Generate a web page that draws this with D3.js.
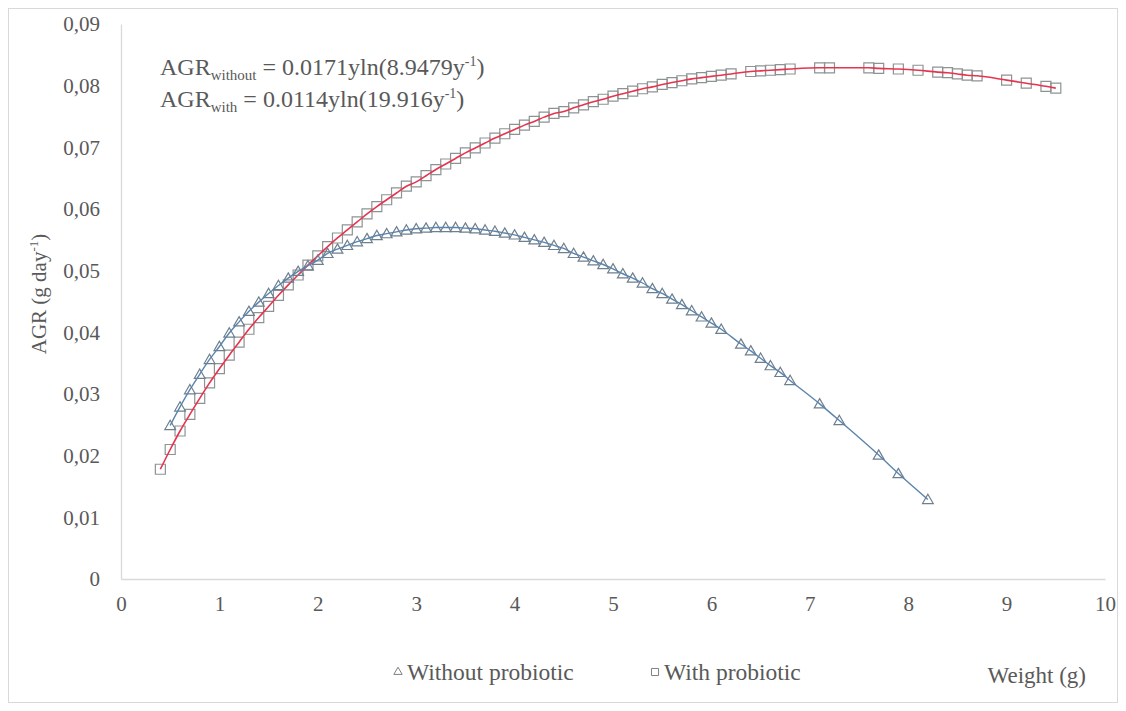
<!DOCTYPE html>
<html>
<head>
<meta charset="utf-8">
<script src="https://cdn.jsdelivr.net/npm/d3@7"></script>
<style>
    body { margin: 0; background: #fff; }
    text { font-family: "Liberation Serif", "Times New Roman", serif; fill: #595959; }
</style>
</head>
<body>
<svg id="chart"></svg>
<script>
// weight (g) and AGR (g/day)
var xWithout = [0.5, 0.6, 0.7, 0.8, 0.9, 1.0, 1.1, 1.2, 1.3, 1.4, 1.5, 1.6, 1.7, 1.8, 1.9,
    2.0, 2.1, 2.2, 2.3, 2.4, 2.5, 2.6, 2.7, 2.8, 2.9, 3.0, 3.1, 3.2, 3.3, 3.4, 3.5, 3.6, 3.7, 3.8, 3.9,
    4.0, 4.1, 4.2, 4.3, 4.4, 4.5, 4.6, 4.7, 4.8, 4.9, 5.0, 5.1, 5.2, 5.3, 5.4, 5.5, 5.6, 5.7, 5.8, 5.9,
    6.0, 6.1, 6.3, 6.4, 6.5, 6.6, 6.7, 6.8, 7.1, 7.3, 7.7, 7.9, 8.2];
var yWithout = [0.0249, 0.0279, 0.0307, 0.0332, 0.0356, 0.0377, 0.0399, 0.0417, 0.0434, 0.0449, 0.0463, 0.0476, 0.0488, 0.0499, 0.0508,
    0.0517, 0.0528, 0.0535, 0.0541, 0.0547, 0.0552, 0.0557, 0.0560, 0.0563, 0.0566, 0.0568, 0.0569, 0.0570, 0.0570, 0.0570, 0.0569, 0.0568, 0.0566, 0.0564, 0.0561,
    0.0558, 0.0554, 0.0550, 0.0546, 0.0541, 0.0536, 0.0528, 0.0522, 0.0516, 0.0510, 0.0503, 0.0495, 0.0488, 0.0480, 0.0471, 0.0463, 0.0454, 0.0445, 0.0435, 0.0425,
    0.0415, 0.0405, 0.0381, 0.0370, 0.0358, 0.0346, 0.0335, 0.0322, 0.0284, 0.0257, 0.0201, 0.0171, 0.0129];

var xWith = [0.4, 0.5, 0.6, 0.7, 0.8, 0.9, 1.0, 1.1, 1.2, 1.3, 1.4, 1.5, 1.6, 1.7, 1.8, 1.9,
    2.0, 2.1, 2.2, 2.3, 2.4, 2.5, 2.6, 2.7, 2.8, 2.9, 3.0, 3.1, 3.2, 3.3, 3.4, 3.5, 3.6, 3.7, 3.8, 3.9,
    4.0, 4.1, 4.2, 4.3, 4.4, 4.5, 4.6, 4.7, 4.8, 4.9, 5.0, 5.1, 5.2, 5.3, 5.4, 5.5, 5.6, 5.7, 5.8, 5.9,
    6.0, 6.1, 6.2, 6.4, 6.5, 6.6, 6.7, 6.8, 7.1, 7.2, 7.6, 7.7, 7.9, 8.1, 8.3, 8.4, 8.5, 8.6, 8.7,
    9.0, 9.2, 9.4, 9.5];
var yWith = [0.0178, 0.0210, 0.0240, 0.0267, 0.0293, 0.0318, 0.0341, 0.0363, 0.0384, 0.0405, 0.0424, 0.0442, 0.0460, 0.0477, 0.0493, 0.0509,
    0.0524, 0.0539, 0.0553, 0.0566, 0.0579, 0.0592, 0.0604, 0.0615, 0.0626, 0.0637, 0.0644, 0.0654, 0.0664, 0.0673, 0.0682, 0.0691, 0.0699, 0.0707, 0.0715, 0.0722,
    0.0729, 0.0736, 0.0742, 0.0749, 0.0755, 0.0758, 0.0764, 0.0769, 0.0774, 0.0778, 0.0783, 0.0787, 0.0791, 0.0795, 0.0798, 0.0802, 0.0805, 0.0808, 0.0811, 0.0813,
    0.0815, 0.0817, 0.0819, 0.0823, 0.0824, 0.0825, 0.0826, 0.0827, 0.0829, 0.0829, 0.0829, 0.0828, 0.0827, 0.0825, 0.0822, 0.0821, 0.0819, 0.0817, 0.0816,
    0.0809, 0.0804, 0.0799, 0.0796];

var xTicks = [0, 1, 2, 3, 4, 5, 6, 7, 8, 9, 10];
var yTicks = [0, 0.01, 0.02, 0.03, 0.04, 0.05, 0.06, 0.07, 0.08, 0.09];
var seriesNames = ["Without probiotic", "With probiotic"];

var W = 1126, H = 711;
var margin = { top: 24, right: 21, bottom: 132, left: 121 },
    width = W - margin.left - margin.right,
    height = H - margin.top - margin.bottom;

var serif = "Liberation Serif, Times New Roman, serif";

var svg = d3.select("#chart")
    .attr("width", W)
    .attr("height", H);

// outer frame
svg.append("rect")
    .attr("x", 8.5).attr("y", 8.5)
    .attr("width", W - 17).attr("height", H - 17)
    .attr("fill", "#fff")
    .attr("stroke", "#d9d9d9");

var g = svg.append("g")
    .attr("transform", "translate(" + margin.left + "," + margin.top + ")");

var x = d3.scaleLinear().domain([0, 10]).range([0, width]);
var y = d3.scaleLinear().domain([0, 0.09]).range([height, 0]);

var fmtY = function (d) { return d === 0 ? "0" : d.toFixed(2).replace(".", ","); };

g.append("g")
    .attr("class", "x axis")
    .attr("transform", "translate(0," + height + ")")
    .call(d3.axisBottom(x).tickValues(xTicks).tickSize(0).tickPadding(17));
g.append("g")
    .attr("class", "y axis")
    .call(d3.axisLeft(y).tickValues(yTicks).tickSize(0).tickPadding(21).tickFormat(fmtY));

g.selectAll(".axis").attr("font-family", serif).attr("font-size", 21);
g.selectAll(".axis path").attr("stroke", "#d9d9d9").attr("stroke-width", 1.3);
g.selectAll(".axis text")
    .attr("font-family", serif)
    .attr("font-size", 21)
    .attr("fill", "#595959");

// axis titles
svg.append("text")
    .attr("transform", "translate(46,294) rotate(-90)")
    .attr("text-anchor", "middle")
    .style("font-size", "21px")
    .call(function (t) {
        t.append("tspan").text("AGR (g day");
        t.append("tspan").attr("dy", -8).style("font-size", "13px").text("-1");
        t.append("tspan").attr("dy", 8).text(")");
    });

svg.append("text")
    .attr("x", 1086).attr("y", 683)
    .attr("text-anchor", "end")
    .style("font-size", "23px")
    .text("Weight  (g)");

var line = d3.line()
    .x(function (d) { return x(d[0]); })
    .y(function (d) { return y(d[1]); })
    .curve(d3.curveMonotoneX);

var withData = xWith.map(function (v, i) { return [v, yWith[i]]; });
var withoutData = xWithout.map(function (v, i) { return [v, yWithout[i]]; });

var squareSym = d3.symbol().type(d3.symbolSquare).size(100);
var triSym = d3.symbol().type(d3.symbolTriangle).size(50);

g.selectAll(".sq")
    .data(withData)
    .enter().append("path")
    .attr("class", "sq")
    .attr("d", squareSym)
    .attr("transform", function (d) { return "translate(" + x(d[0]) + "," + y(d[1]) + ")"; })
    .attr("fill", "none")
    .attr("stroke", "#8c9493")
    .attr("stroke-width", 1.2);

g.append("path")
    .datum(withData)
    .attr("d", line)
    .attr("fill", "none")
    .attr("stroke", "#e8334f")
    .attr("stroke-width", 1.6);

g.selectAll(".tri")
    .data(withoutData)
    .enter().append("path")
    .attr("class", "tri")
    .attr("d", triSym)
    .attr("transform", function (d) { return "translate(" + x(d[0]) + "," + (y(d[1]) + 1) + ")"; })
    .attr("fill", "none")
    .attr("stroke", "#6e7f8e")
    .attr("stroke-width", 1.2);

g.append("path")
    .datum(withoutData)
    .attr("d", line)
    .attr("fill", "none")
    .attr("stroke", "#5b84ad")
    .attr("stroke-width", 1.4);

// equations
var eq = svg.append("g").style("font-size", "24px");
function equation(yPos, sub, body) {
    var t = eq.append("text").attr("x", 160).attr("y", yPos).attr("fill", "#333");
    t.append("tspan").text("AGR");
    t.append("tspan").attr("dy", 5).style("font-size", "15px").text(sub);
    t.append("tspan").attr("dy", -5).text(" = " + body);
    t.append("tspan").attr("dy", -9).style("font-size", "14px").text("-1");
    t.append("tspan").attr("dy", 9).text(")");
}
equation(75, "without", "0.0171yln(8.9479y");
equation(107, "with", "0.0114yln(19.916y");

// legend
var legend = svg.append("g").attr("transform", "translate(0,672)");
var legendX = [398, 655];
seriesNames.forEach(function (name, i) {
    legend.append("path")
        .attr("d", i === 0 ? d3.symbol().type(d3.symbolTriangle).size(30)() : d3.symbol().type(d3.symbolSquare).size(50)())
        .attr("transform", "translate(" + legendX[i] + ",0)")
        .attr("fill", "none")
        .attr("stroke", "#808080")
        .attr("stroke-width", 1);
    legend.append("text")
        .attr("x", legendX[i] + 9)
        .attr("y", 8)
        .style("font-size", "23.5px")
        .text(name);
});
</script>
</body>
</html>
